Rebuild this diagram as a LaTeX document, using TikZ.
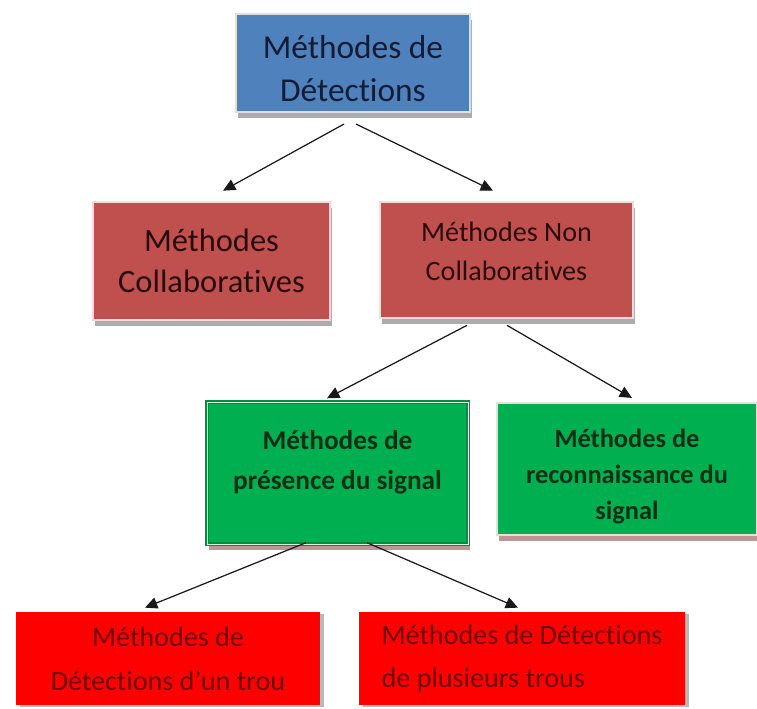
\documentclass[tikz,border=0pt]{standalone}
\usepackage{fontspec}
\setmainfont{Carlito}[Ligatures={TeX,NoCommon}]
\definecolor{detectblue}{RGB}{79, 129, 189}
\definecolor{detecttext}{RGB}{18, 28, 52}
\definecolor{collabred}{RGB}{192, 80, 77}
\definecolor{collabtext}{RGB}{40, 12, 12}
\definecolor{collabedge}{RGB}{242, 220, 219}
\definecolor{signalgreen}{RGB}{0, 176, 80}
\definecolor{signaltext}{RGB}{12, 48, 22}
\definecolor{signalshadow}{RGB}{190, 150, 150}
\definecolor{trourouge}{RGB}{255, 0, 0}
\definecolor{troutext}{RGB}{110, 0, 0}
\usetikzlibrary{shadows, arrows.meta, positioning}

\begin{document}
\begin{tikzpicture}[
  methbox/.style={rectangle, inner sep=4pt, align=center},
  greyshadow/.style={drop shadow={shadow xshift=1pt, shadow yshift=-3.5pt, fill=gray!65, opacity=1}},
  pinkshadow/.style={drop shadow={shadow xshift=1pt, shadow yshift=-3.5pt, fill=signalshadow, opacity=1}},
  arrow/.style={-{Triangle[length=7pt, width=6.5pt]}, line width=0.7pt, black!90}
]
  \useasboundingbox (0,0) rectangle (15.14,-14.18);

  % Level 1: root
  \node[methbox, greyshadow, fill=detectblue, draw=gray!25, line width=1.2pt,
    minimum width=4.68cm, minimum height=1.96cm, text=detecttext, text height=44pt,
    font=\fontsize{19}{24.5}\selectfont] (detect) at (7.06,-1.26)
    {Méthodes de\\Détections};

  % Level 2: collaborative or not
  \node[methbox, greyshadow, fill=collabred, draw=collabedge, line width=1.5pt,
    minimum width=4.74cm, minimum height=2.36cm, text=collabtext,
    font=\fontsize{18.5}{23}\selectfont] (collab) at (4.23,-5.22)
    {Méthodes\\Collaboratives};
  \node[methbox, greyshadow, fill=collabred, draw=collabedge, line width=1.5pt,
    minimum width=5.06cm, minimum height=2.32cm, text=collabtext, text depth=10pt,
    font=\fontsize{16}{22.5}\selectfont] (noncollab) at (10.13,-5.2)
    {Méthodes Non\\Collaboratives};

  % Level 3: signal
  \node[methbox, pinkshadow, fill=signalgreen, draw=signalgreen!80!black,
    double=white!85!signalgreen, double distance=0.5pt, line width=0.8pt,
    minimum width=5.22cm, minimum height=2.84cm, text=signaltext, text depth=15pt,
    font=\bfseries\fontsize{15.5}{22.5}\selectfont] (presence) at (6.75,-9.46)
    {Méthodes de\\présence du signal};
  \node[methbox, pinkshadow, fill=signalgreen, draw=collabedge, line width=1.2pt,
    minimum width=5.2cm, minimum height=2.64cm, text=signaltext, text height=60pt,
    font=\bfseries\fontsize{15}{20.5}\selectfont] (recon) at (12.54,-9.38)
    {Méthodes de\\reconnaissance du\\signal};

  % Level 4: holes
  \node[methbox, drop shadow={shadow xshift=2.5pt, shadow yshift=-1pt, fill=gray!55, opacity=1},
    fill=trourouge, minimum width=6.08cm, minimum height=1.86cm, text=troutext,
    font=\fontsize{16}{25}\selectfont] (untrou) at (3.36,-13.17)
    {Méthodes de\\Détections d’un trou};
  \node[methbox, drop shadow={shadow xshift=2.5pt, shadow yshift=-1pt, fill=gray!55, opacity=1},
    fill=trourouge, align=left, minimum width=6.52cm, minimum height=1.86cm, text=troutext,
    font=\fontsize{16}{24}\selectfont] (plusieurs) at (10.44,-13.17)
    {Méthodes de Détections\\de plusieurs trous};

  % Arrows
  \draw[arrow] ([xshift=-0.18cm, yshift=-0.22cm]detect.south) -- ([xshift=0.23cm, yshift=0.2cm]collab.north);
  \draw[arrow] ([xshift=0.06cm, yshift=-0.22cm]detect.south) -- ([xshift=-0.27cm, yshift=0.2cm]noncollab.north);
  \draw[arrow] ([xshift=-0.79cm, yshift=-0.12cm]noncollab.south) -- ([xshift=-0.21cm, yshift=0.06cm]presence.north);
  \draw[arrow] ([xshift=0.01cm, yshift=-0.12cm]noncollab.south) -- ([xshift=0.1cm, yshift=0.08cm]recon.north);
  \draw[arrow] ([xshift=-0.63cm, yshift=0.04cm]presence.south) -- ([xshift=-0.46cm, yshift=0.08cm]untrou.north);
  \draw[arrow] ([xshift=0.59cm, yshift=0.04cm]presence.south) -- ([xshift=-0.08cm, yshift=0.08cm]plusieurs.north);
\end{tikzpicture}
\end{document}
